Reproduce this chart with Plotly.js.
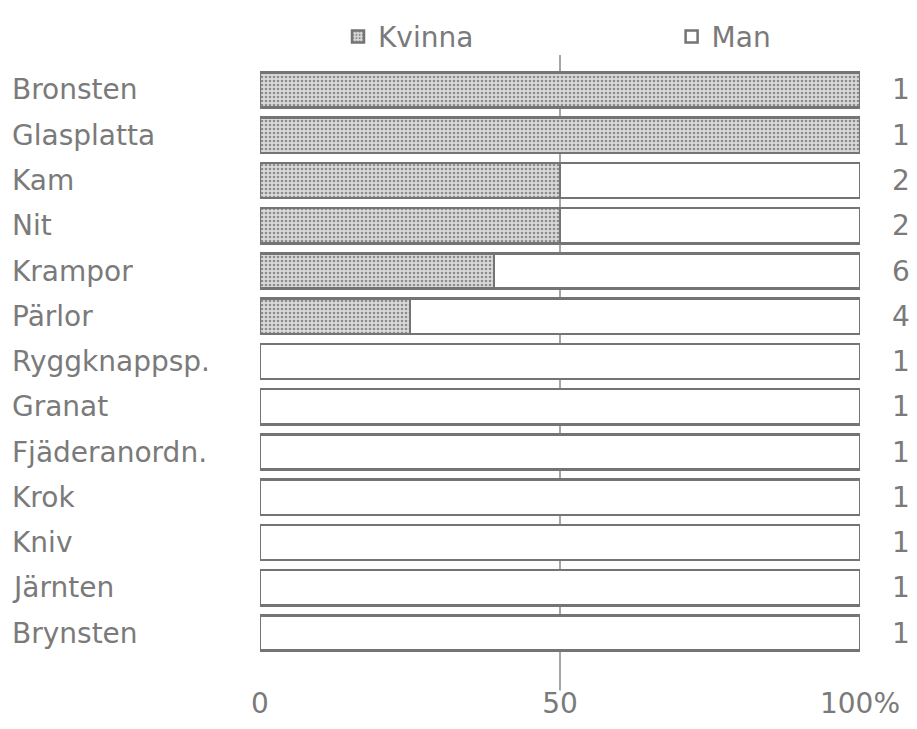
<!DOCTYPE html>
<html>
<head>
<meta charset="utf-8">
<script src="https://cdn.plot.ly/plotly-3.0.1.min.js"></script>
<style>html,body{margin:0;padding:0;background:#fff;}</style>
</head>
<body>
<div id="chart" style="width:917px;height:729px;"></div>
<script>
const categories = ["Bronsten","Glasplatta","Kam","Nit","Krampor","Pärlor","Ryggknappsp.","Granat","Fjäderanordn.","Krok","Kniv","Järnten","Brynsten"];
const kvinna = [100,100,50,50,39,25,0,0,0,0,0,0,0];
const man = [0,0,50,50,61,75,100,100,100,100,100,100,100];
const counts = [1,1,2,2,6,4,1,1,1,1,1,1,1];
const tickVals = [0,50,100];
const tickText = ["0","50","100%"];

const txtColor = "#7a7a7a";
const edge = "#747474";
const fontFam = "DejaVu Sans, sans-serif";
const fs = 28;

const traces = [
  {type:"bar", orientation:"h", name:"Kvinna", y:categories, x:kvinna, width:0.78, legend:"legend",
   marker:{color:"#d2d2d2", line:{color:edge, width:2.5},
     pattern:{shape:".", fgcolor:"#8c8c8c", bgcolor:"#dadada", size:4, solidity:0.35}}},
  {type:"bar", orientation:"h", name:"Man", y:categories, x:man, width:0.78, legend:"legend2",
   marker:{color:"#ffffff", line:{color:edge, width:2.5}}}
];

const annotations = [];
categories.forEach((c,i)=>{
  annotations.push({xref:"paper", yref:"y", x:-0.417, y:c, xanchor:"left", yanchor:"middle",
    text:c, showarrow:false, font:{family:fontFam, size:fs, color:txtColor}});
  annotations.push({xref:"paper", yref:"y", x:1.068, y:c, xanchor:"center", yanchor:"middle",
    text:String(counts[i]), showarrow:false, font:{family:fontFam, size:fs, color:txtColor}});
});

const legFont = {family:fontFam, size:fs, color:txtColor};
const layout = {
  width:917, height:729,
  margin:{l:260, r:57, t:55, b:57},
  paper_bgcolor:"#fff", plot_bgcolor:"#fff",
  barmode:"stack",
  showlegend:true,
  legend:{orientation:"h", x:0.13, y:1.07, xanchor:"left", yanchor:"top",
    font:legFont, bgcolor:"rgba(0,0,0,0)"},
  legend2:{orientation:"h", x:0.686, y:1.07, xanchor:"left", yanchor:"top",
    font:legFont, bgcolor:"rgba(0,0,0,0)"},
  xaxis:{range:[0,100], tickvals:tickVals, ticktext:tickText, showgrid:false, zeroline:false,
    showline:false, ticks:"", tickfont:{family:fontFam, size:fs, color:txtColor}, ticklabelstandoff:12},
  yaxis:{type:"category", range:[12.86,-0.773], showticklabels:false, showgrid:false,
    zeroline:false, showline:false, ticks:""},
  shapes:[{type:"line", xref:"x", yref:"paper", x0:50, x1:50, y0:-0.03, y1:1,
    line:{color:"#888", width:1.5}, layer:"below"}],
  annotations:annotations
};

Plotly.newPlot("chart", traces, layout, {displayModeBar:false});
</script>
</body>
</html>
